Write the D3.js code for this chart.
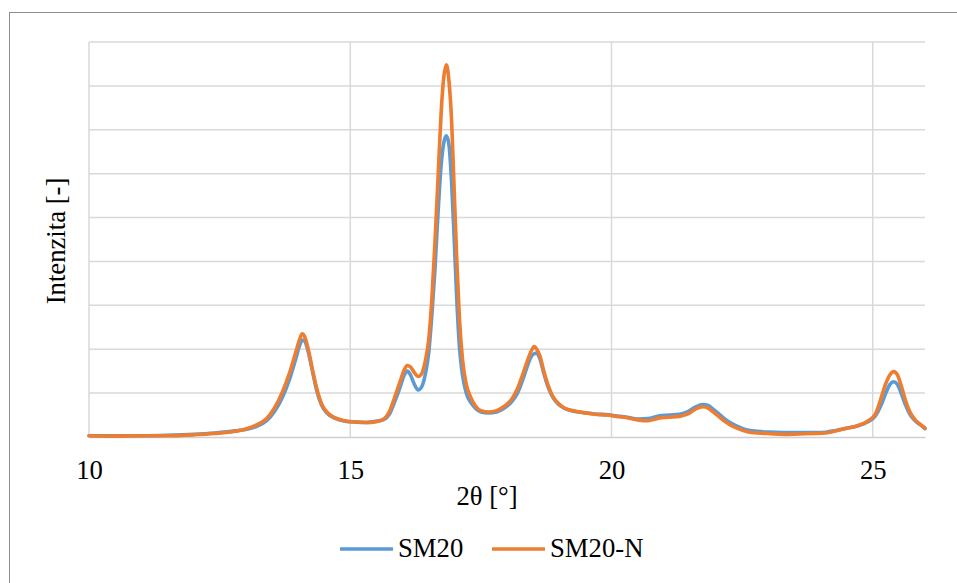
<!DOCTYPE html>
<html>
<head>
<meta charset="utf-8">
<script src="https://cdn.jsdelivr.net/npm/d3@7/dist/d3.min.js"></script>
<style>
  html, body { margin: 0; padding: 0; background: #fff; }
  svg { display: block; font-family: "Liberation Serif", "Times New Roman", serif; }
</style>
</head>
<body>
<svg id="chart" width="957" height="583"></svg>
<script>
// Diffraction angle 2θ (degrees)
const angles = [
  10.0, 10.5, 11.0, 11.5, 12.0, 12.4, 12.8, 13.0, 13.2, 13.4,
  13.55, 13.7, 13.85, 13.95, 14.03, 14.08, 14.13, 14.2, 14.28, 14.36,
  14.45, 14.55, 14.7, 14.9, 15.1, 15.3, 15.5, 15.65, 15.75, 15.85,
  15.95, 16.03, 16.09, 16.15, 16.22, 16.3, 16.37, 16.44, 16.5, 16.56,
  16.62, 16.68, 16.74, 16.79, 16.84, 16.89, 16.94, 16.99, 17.04, 17.09,
  17.15, 17.22, 17.3, 17.4, 17.5, 17.65, 17.8, 17.95, 18.1, 18.2,
  18.3, 18.38, 18.45, 18.52, 18.57, 18.63, 18.7, 18.78, 18.87, 18.97,
  19.1, 19.3, 19.5, 19.7, 19.9, 20.1, 20.3, 20.5, 20.7, 20.9,
  21.1, 21.3, 21.45, 21.6, 21.75, 21.85, 21.95, 22.1, 22.25, 22.4,
  22.6, 22.8, 23.0, 23.3, 23.6, 23.9, 24.1, 24.3, 24.5, 24.7,
  24.9, 25.05, 25.15, 25.25, 25.33, 25.4, 25.47, 25.55, 25.63, 25.72,
  25.82, 25.92, 26.0
];

// Intensity, sample SM20
const sm20 = [
  0.03, 0.03, 0.03, 0.04, 0.06, 0.09, 0.14, 0.17, 0.24, 0.37,
  0.58, 0.90, 1.36, 1.75, 2.08, 2.21, 2.18, 1.92, 1.48, 1.05,
  0.73, 0.55, 0.43, 0.36, 0.34, 0.33, 0.36, 0.40, 0.52, 0.80,
  1.12, 1.40, 1.50, 1.42, 1.22, 1.07, 1.15, 1.45, 1.90, 2.75,
  3.80, 5.10, 6.20, 6.70, 6.86, 6.65, 5.80, 4.50, 3.10, 2.05,
  1.40, 1.00, 0.80, 0.65, 0.57, 0.55, 0.57, 0.66, 0.82, 1.00,
  1.30, 1.58, 1.80, 1.90, 1.91, 1.78, 1.47, 1.16, 0.92, 0.76,
  0.65, 0.58, 0.55, 0.52, 0.51, 0.48, 0.45, 0.41, 0.42, 0.48,
  0.50, 0.52, 0.57, 0.68, 0.74, 0.72, 0.63, 0.48, 0.34, 0.25,
  0.16, 0.13, 0.11, 0.10, 0.10, 0.10, 0.11, 0.15, 0.20, 0.25,
  0.34, 0.48, 0.70, 1.00, 1.20, 1.26, 1.20, 0.98, 0.72, 0.50,
  0.36, 0.27, 0.19
];

// Intensity, sample SM20-N
const sm20n = [
  0.03, 0.02, 0.03, 0.03, 0.05, 0.08, 0.13, 0.18, 0.27, 0.42,
  0.66, 1.02, 1.50, 1.90, 2.22, 2.35, 2.28, 1.98, 1.52, 1.10,
  0.76, 0.57, 0.44, 0.37, 0.34, 0.33, 0.35, 0.42, 0.58, 0.90,
  1.25, 1.52, 1.63, 1.60, 1.48, 1.38, 1.45, 1.75, 2.20, 3.10,
  4.40, 5.90, 7.40, 8.20, 8.48, 8.10, 7.20, 5.60, 4.00, 2.70,
  1.75, 1.20, 0.92, 0.70, 0.60, 0.57, 0.60, 0.70, 0.88, 1.10,
  1.42, 1.70, 1.92, 2.06, 2.00, 1.85, 1.52, 1.20, 0.94, 0.78,
  0.66, 0.59, 0.55, 0.52, 0.50, 0.47, 0.44, 0.39, 0.37, 0.43,
  0.45, 0.47, 0.52, 0.63, 0.69, 0.66, 0.57, 0.42, 0.29, 0.20,
  0.12, 0.09, 0.08, 0.06, 0.07, 0.08, 0.09, 0.14, 0.20, 0.25,
  0.36, 0.52, 0.85, 1.22, 1.42, 1.49, 1.42, 1.15, 0.82, 0.55,
  0.38, 0.28, 0.20
];

const seriesNames = ["SM20", "SM20-N"];
const seriesColors = ["#5B9BD5", "#ED7D31"];
const xTicks = [10, 15, 20, 25];
const yGrid = [0, 1, 2, 3, 4, 5, 6, 7, 8, 9];

const svg = d3.select("#chart");
const fontSize = 26.7;

// outer chart frame (runs past the right and bottom edges)
svg.append("rect")
  .attr("x", 9.5).attr("y", 12.5)
  .attr("width", 1000).attr("height", 1000)
  .attr("fill", "none").attr("stroke", "#8c8c8c").attr("stroke-width", 1);

const plot = { left: 89, right: 925, top: 42, bottom: 437 };

const x = d3.scaleLinear().domain([10, 26]).range([plot.left, plot.right]);
const y = d3.scaleLinear().domain([0, 9]).range([plot.bottom, plot.top]);

// horizontal gridlines
svg.append("g")
  .selectAll("line")
  .data(yGrid.filter(d => d > 0))
  .join("line")
  .attr("x1", plot.left).attr("x2", plot.right)
  .attr("y1", d => y(d)).attr("y2", d => y(d))
  .attr("stroke", "#d9d9d9").attr("stroke-width", 1.5);

// vertical gridlines
svg.append("g")
  .selectAll("line")
  .data(xTicks)
  .join("line")
  .attr("x1", d => x(d)).attr("x2", d => x(d))
  .attr("y1", plot.top).attr("y2", plot.bottom)
  .attr("stroke", "#d9d9d9").attr("stroke-width", 1.5);

// x axis with labels
const xAxis = d3.axisBottom(x).tickValues(xTicks).tickSize(0).tickPadding(0).tickFormat(d3.format("d"));
const gx = svg.append("g").attr("transform", `translate(0,${plot.bottom})`).call(xAxis);
gx.select(".domain").attr("stroke", "#cfcfcf").attr("stroke-width", 1.5);
gx.selectAll("text")
  .attr("font-family", "Liberation Serif, Times New Roman, serif")
  .attr("font-size", fontSize)
  .attr("fill", "#000")
  .attr("dy", null)
  .attr("y", 42);

// series lines
const series = [sm20, sm20n];
const line = d3.line()
  .x((d, i) => x(angles[i]))
  .y(d => y(d))
  .curve(d3.curveMonotoneX);

series.forEach((vals, k) => {
  svg.append("path")
    .datum(vals)
    .attr("d", line)
    .attr("fill", "none")
    .attr("stroke", seriesColors[k])
    .attr("stroke-width", 3.6)
    .attr("stroke-linejoin", "round")
    .attr("stroke-linecap", "round");
});

// axis titles
svg.append("text")
  .attr("x", 487).attr("y", 505)
  .attr("text-anchor", "middle")
  .attr("font-size", fontSize)
  .text("2θ [°]");

svg.append("text")
  .attr("transform", "translate(65,241) rotate(-90)")
  .attr("text-anchor", "middle")
  .attr("font-size", fontSize)
  .text("Intenzita [-]");

// legend
const legendItems = [
  { x1: 340, x2: 393, tx: 398 },
  { x1: 492, x2: 545, tx: 550 }
];
legendItems.forEach((it, k) => {
  svg.append("line")
    .attr("x1", it.x1).attr("x2", it.x2)
    .attr("y1", 549).attr("y2", 549)
    .attr("stroke", seriesColors[k]).attr("stroke-width", 3.6);
  svg.append("text")
    .attr("x", it.tx).attr("y", 557)
    .attr("font-size", fontSize)
    .text(seriesNames[k]);
});
</script>
</body>
</html>
